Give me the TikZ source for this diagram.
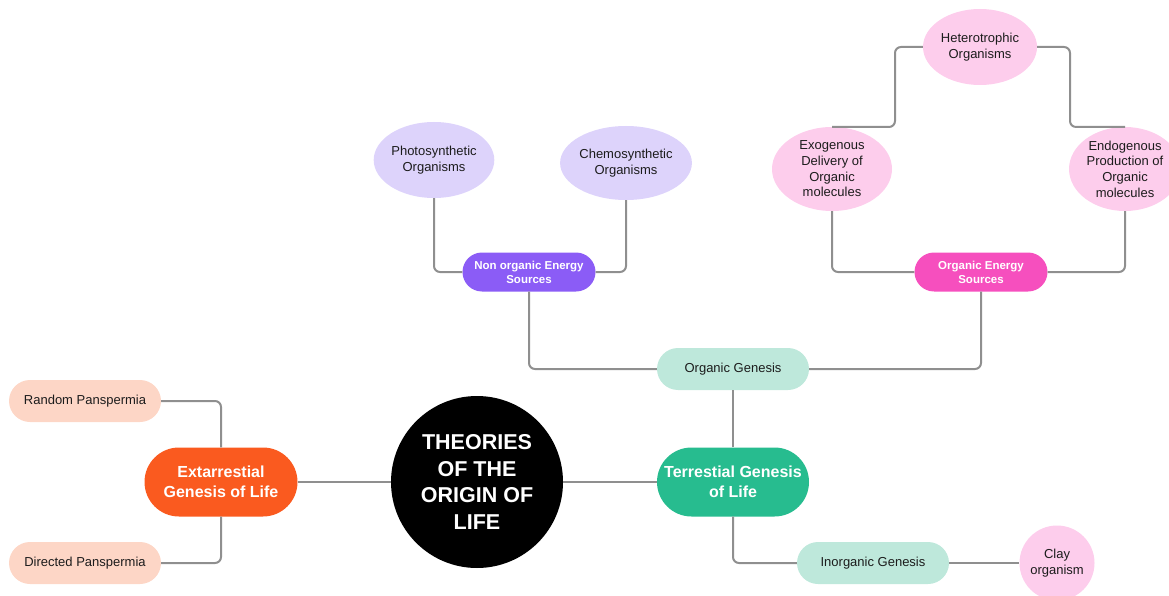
\documentclass[tikz,border=0pt]{standalone}
\usepackage{fontspec}
\setmainfont{Liberation Sans}
\usetikzlibrary{shapes.geometric}

\definecolor{linegray}{HTML}{8F8F8F}
\definecolor{inkdark}{HTML}{1C1C1C}
\definecolor{extorange}{HTML}{FA5A1F}
\definecolor{peach}{HTML}{FDD6C6}
\definecolor{terrgreen}{HTML}{27BC8F}
\definecolor{mint}{HTML}{BEE8DB}
\definecolor{violet}{HTML}{8B5CF6}
\definecolor{lavender}{HTML}{DDD3FB}
\definecolor{hotpink}{HTML}{F64FBE}
\definecolor{softpink}{HTML}{FDCDEC}

\begin{document}
\begin{tikzpicture}[x=1pt, y=-1pt,
    pill/.style={rectangle, rounded corners=21pt, minimum width=152pt, minimum height=42pt,
        inner sep=0pt, align=center, font=\fontsize{13}{16}\selectfont, text=inkdark},
    bigpill/.style={pill, rounded corners=34.5pt, minimum height=69pt,
        font=\fontsize{16}{20}\selectfont\bfseries, text=white},
    energy/.style={pill, rounded corners=19.5pt, minimum width=133pt, minimum height=39pt,
        font=\fontsize{11.5}{14}\selectfont\bfseries, text=white},
    blob/.style={ellipse, inner sep=0pt, align=center,
        font=\fontsize{13}{15.7}\selectfont, text=inkdark},
    link/.style={draw=linegray, line width=2pt, rounded corners=6pt}]
    \useasboundingbox (0,0) rectangle (1169,596);

    % Centre
    \node[circle, fill=black, minimum size=172pt, inner sep=0pt, align=center, text=white,
        font=\fontsize{21.5}{26.5}\selectfont\bfseries] (core) at (477,482)
        {THEORIES\\OF THE\\ORIGIN OF\\LIFE};

    % Extraterrestrial branch
    \node[bigpill, fill=extorange, minimum width=153pt] (ext) at (221,482) {Extarrestial\\Genesis of Life};
    \node[pill, fill=peach] (rand) at (85,401) {Random Panspermia};
    \node[pill, fill=peach] (dir) at (85,563) {Directed Panspermia};

    % Terrestrial branch
    \node[bigpill, fill=terrgreen] (terr) at (733,482) {Terrestial Genesis\\of Life};
    \node[pill, fill=mint] (org) at (733,369) {Organic Genesis};
    \node[pill, fill=mint] (inorg) at (873,563) {Inorganic Genesis};
    \node[circle, fill=softpink, minimum size=75pt, inner sep=0pt, align=center,
        font=\fontsize{13}{16}\selectfont, text=inkdark] (clay) at (1057,563) {Clay\\organism};

    % Energy sources
    \node[energy, fill=violet] (nonorg) at (529,272) {Non organic Energy\\Sources};
    \node[energy, fill=hotpink] (orgen) at (981,272) {Organic Energy\\Sources};
    \node[blob, fill=lavender, minimum width=120pt, minimum height=76pt] (photo) at (434,160)
        {Photosynthetic\\Organisms};
    \node[blob, fill=lavender, minimum width=128pt, minimum height=74pt] (chemo) at (626,163)
        {Chemosynthetic\\Organisms};
    \node[blob, fill=softpink, minimum width=120pt, minimum height=84pt] (exo) at (832,169)
        {Exogenous\\Delivery of\\Organic\\molecules};
    \node[blob, fill=softpink, minimum width=112pt, minimum height=84pt] (endo) at (1125,169)
        {Endogenous\\Production of\\Organic\\molecules};
    \node[blob, fill=softpink, minimum width=114pt, minimum height=76pt] (hetero) at (980,47)
        {Heterotrophic\\Organisms};

    % Corner points of the top loop
    \coordinate (hetl) at (895,127);
    \coordinate (hetr) at (1070,127);

    % Connectors
    \draw[link] (ext) -- (core);
    \draw[link] (rand.east) -| (ext.north);
    \draw[link] (dir.east) -| (ext.south);
    \draw[link] (core) -- (terr);
    \draw[link] (terr.north) -- (org.south);
    \draw[link] (terr.south) |- (inorg.west);
    \draw[link] (inorg.east) -- (clay.west);
    \draw[link] (org.west) -| (nonorg.south);
    \draw[link] (org.east) -| (orgen.south);
    \draw[link] (photo.south) |- (nonorg.west);
    \draw[link] (chemo.south) |- (nonorg.east);
    \draw[link] (exo.south) |- (orgen.west);
    \draw[link] (endo.south) |- (orgen.east);
    \draw[link] (hetero.west) -| (hetl) -- (exo.north);
    \draw[link] (hetero.east) -| (hetr) -- (endo.north);
\end{tikzpicture}
\end{document}
